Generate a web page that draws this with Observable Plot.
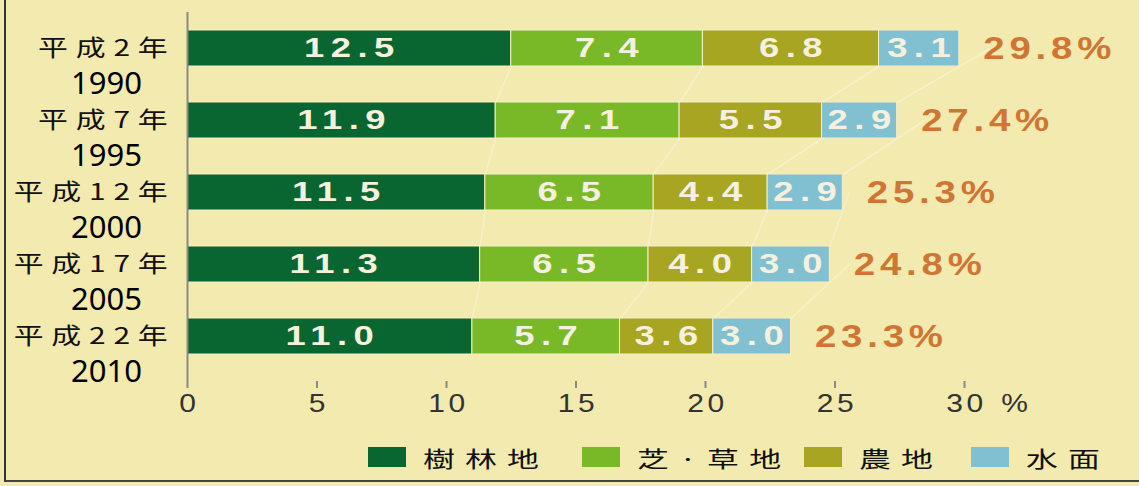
<!DOCTYPE html>
<html>
<head>
<meta charset="utf-8">
<script src="https://cdn.jsdelivr.net/npm/d3@7"></script>
<script src="https://cdn.jsdelivr.net/npm/@observablehq/plot@0.6"></script>
<style>
  html, body { margin: 0; padding: 0; background: #f2eaae; }
  #wrap { position: relative; width: 1139px; height: 486px; overflow: hidden; background: #f2eaae; }
  #frame { position: absolute; left: 4px; top: -4px; width: 1200px; height: 486px; border-left: 2px solid #333; border-bottom: 2px solid #444; box-sizing: border-box; pointer-events: none; }
  #chart { position: absolute; left: 0; top: 0; }
  #legend { position: absolute; left: 0; top: 444px; width: 1139px; height: 30px; }
  .item { position: absolute; top: 0; display: flex; align-items: center; height: 26px; }
  .sw { width: 38px; height: 20px; margin-right: 17px; }
  .lab { display: inline-block; transform: scaleX(1.45); transform-origin: left center; font-family: "Noto Sans CJK JP", sans-serif; font-size: 22px; letter-spacing: 7px; color: #111; white-space: nowrap; }
  #chart g[font-size="28"] { letter-spacing: 5px; }
  #chart g[font-size="32"] { letter-spacing: 4px; }
  #chart g[font-size="23"] { letter-spacing: 6px; }
  #chart g[font-size="25"] { letter-spacing: 3px; }
</style>
</head>
<body>
<div id="wrap">
  <div id="chart"></div>
  <div id="legend"></div>
  <div id="frame"></div>
</div>
<script>
// ---- data ----
const eraLabels = ["平成2年", "平成7年", "平成12年", "平成17年", "平成22年"];
const yearLabels = ["1990", "1995", "2000", "2005", "2010"];
const categories = ["樹林地", "芝·草地", "農地", "水面"];
const forest = [12.5, 11.9, 11.5, 11.3, 11.0];
const grass  = [7.4, 7.1, 6.5, 6.5, 5.7];
const farm   = [6.8, 5.5, 4.4, 4.0, 3.6];
const water  = [3.1, 2.9, 2.9, 3.0, 3.0];
const totals = [29.8, 27.4, 25.3, 24.8, 23.3];
const xTicks = [0, 5, 10, 15, 20, 25, 30];
const colors = ["#0a6631", "#79b928", "#a7a521", "#80c0d1"];

// ---- build tables ----
const series = [forest, grass, farm, water];
const rows = [];
eraLabels.forEach((era, i) => {
  categories.forEach((c, k) => rows.push({era, cat: c, value: series[k][i], order: k}));
});
const totalRows = eraLabels.map((era, i) => ({era, total: totals[i], year: yearLabels[i]}));

// faint connecting lines between successive bars at each segment boundary
const cum = eraLabels.map((_, i) => {
  let s = 0; return series.map(arr => (s += arr[i]));
});
const links = [];
for (let i = 0; i < eraLabels.length - 1; i++) {
  for (let k = 0; k < 4; k++) {
    const a = cum[i][k], b = cum[i + 1][k];
    links.push({y1: eraLabels[i], y2: eraLabels[i + 1], x1: a - 0.5 * (b - a), x2: b + 0.5 * (b - a)});
  }
}

const chart = Plot.plot({
  width: 1139,
  height: 430,
  marginLeft: 187,
  marginRight: 175,
  marginTop: 12,
  marginBottom: 42,
  style: {background: "transparent", overflow: "visible"},
  x: {domain: [0, 30], axis: null},
  y: {domain: eraLabels, paddingInner: 0.5, paddingOuter: 0.361, align: 0.346, axis: null},
  color: {domain: categories, range: colors},
  marks: [
    Plot.link(links, {x1: "x1", x2: "x2", y1: "y1", y2: "y2", stroke: "#f8f3d6", strokeWidth: 1.5, strokeOpacity: 0.7}),
    Plot.barX(rows, {x: "value", y: "era", fill: "cat", order: "order", stroke: "#f6efc8", strokeWidth: 1}),
    Plot.text(rows, Plot.stackX({x: "value", y: "era", z: "cat", order: "order", text: d => d.value.toFixed(1),
      fill: "#f5f1de", fontSize: 28, fontWeight: "bold", fontFamily: "Liberation Sans, Arial, sans-serif",
      dx: 3})),
    Plot.text(totalRows, {x: "total", y: "era", text: d => d.total.toFixed(1) + "%", textAnchor: "start", dx: 24,
      fill: "#cf7635", fontSize: 32, fontWeight: "bold", fontFamily: "Liberation Sans, Arial, sans-serif"}),
    // y labels
    Plot.text(totalRows, {y: "era", text: "era", frameAnchor: "left", textAnchor: "end", dx: -12, dy: 0,
      fill: "#111", fontSize: 23, fontFamily: "Noto Sans CJK JP, sans-serif"}),
    Plot.text(totalRows, {y: "era", text: "year", frameAnchor: "left", textAnchor: "middle", dx: -81, dy: 36,
      fill: "#000", fontSize: 31, fontFamily: "Noto Sans, sans-serif"}),
    // axes
    Plot.ruleX([0], {stroke: "#8a8a80", strokeWidth: 2}),
    Plot.ruleY([0], {frameAnchor: "bottom", stroke: "#8a8a80", strokeWidth: 2}),
    Plot.tickX(xTicks.slice(1), {x: d => d, stroke: "#8a8a80", strokeWidth: 2, insetTop: 369}),
    Plot.axisX(xTicks, {anchor: "bottom", tickSize: 0, tickPadding: 6, dx: 2, fontSize: 25, fill: "#333", fontFamily: "Liberation Sans, Arial, sans-serif", color: "#333"}),
    Plot.text([30], {x: d => d, text: () => "%", frameAnchor: "bottom", dy: 6, dx: 52, lineAnchor: "top", fontSize: 25, fill: "#333", fontFamily: "Liberation Sans, Arial, sans-serif"})
  ]
});
document.getElementById("chart").appendChild(chart);

// horizontal stretch of some texts (the reference uses wide typefaces)
function stretch(sel, sx) {
  d3.select(chart).selectAll(sel).each(function () {
    const t = this.getAttribute("transform") || "";
    this.setAttribute("transform", t + ` scale(${sx},1)`);
  });
}
stretch('g[font-size="28"] text', 1.3);
stretch('g[font-size="32"] text', 1.2);
stretch('g[font-size="23"] text', 1.3);
stretch('g[font-size="25"] text', 1.2);

// ---- legend ----
const legendX = [368, 582, 804, 971];
const legend = document.getElementById("legend");
categories.forEach((c, k) => {
  const it = document.createElement("div");
  it.className = "item";
  it.style.left = legendX[k] + "px";
  it.innerHTML = `<div class="sw" style="background:${colors[k]}"></div><span class="lab">${c}</span>`;
  legend.appendChild(it);
});
</script>
</body>
</html>
